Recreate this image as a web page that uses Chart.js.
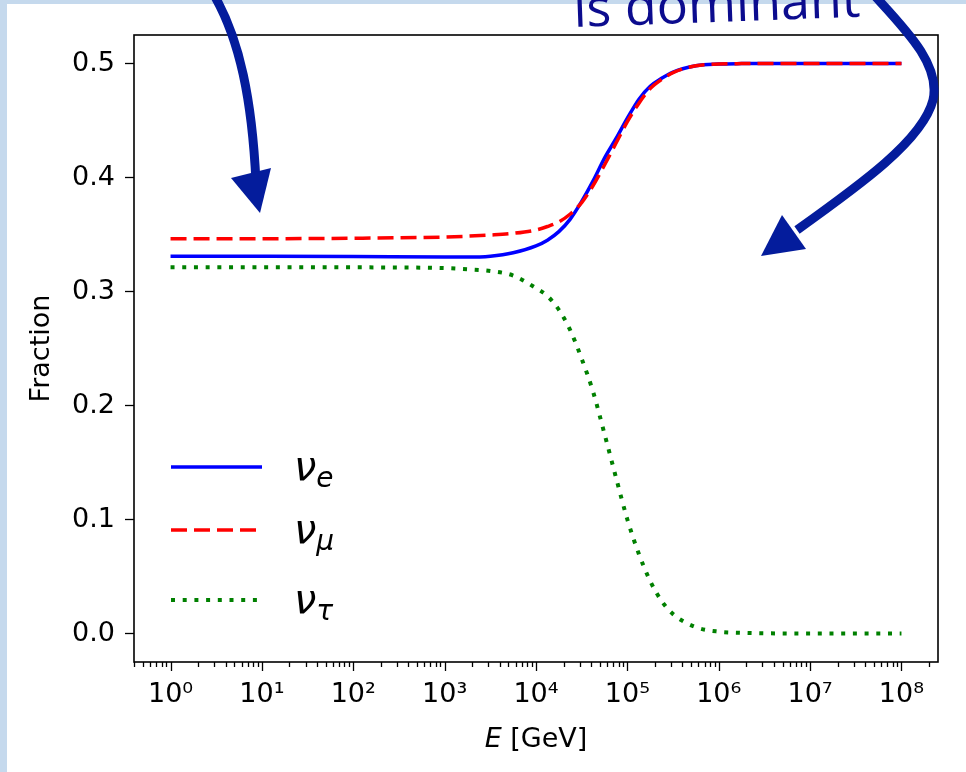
<!DOCTYPE html>
<html>
<head>
<meta charset="utf-8">
<script src="https://cdn.jsdelivr.net/npm/chart.js@4.4.1/dist/chart.umd.min.js"></script>
<style>
  html, body { margin: 0; padding: 0; background: #fff; }
  #wrap { width: 966px; height: 772px; }
</style>
</head>
<body>
<div id="wrap"><canvas id="fractionChart" width="966" height="772"></canvas></div>
<script>
// Energies in GeV (sample points)
const energyGeV = [1, 10, 100, 1000, 1778, 3162, 5623, 10000, 13335, 17783, 23714, 31623, 42170,
	56234, 74989, 100000, 133352, 177828, 237137, 316228, 562341, 1000000, 1778279, 3162278,
	10000000, 100000000];

// Flavour fractions
const nuE = [0.3310, 0.3310, 0.3308, 0.3302, 0.3302, 0.3310, 0.3340, 0.3400, 0.3450, 0.3525,
	0.3635, 0.3790, 0.3970, 0.4170, 0.4340, 0.4520, 0.4685, 0.4800, 0.4870, 0.4925, 0.4980,
	0.4995, 0.4999, 0.5000, 0.5000, 0.5000];
const nuMu = [0.3462, 0.3463, 0.3467, 0.3478, 0.3485, 0.3495, 0.3510, 0.3540, 0.3570, 0.3610,
	0.3680, 0.3780, 0.3930, 0.4110, 0.4300, 0.4490, 0.4650, 0.4780, 0.4860, 0.4920, 0.4980,
	0.4995, 0.4999, 0.5000, 0.5000, 0.5000];
const nuTau = [0.3213, 0.3213, 0.3212, 0.3205, 0.3195, 0.3180, 0.3140, 0.3030, 0.2960, 0.2840,
	0.2660, 0.2410, 0.2120, 0.1750, 0.1370, 0.1000, 0.0700, 0.0460, 0.0285, 0.0170, 0.0055,
	0.0016, 0.0006, 0.0002, 0.0000, 0.0000];

// Tick labels
const decadeValues = [1, 10, 100, 1000, 10000, 100000, 1000000, 10000000, 100000000];
const decadeLabels = ["10⁰", "10¹", "10²", "10³", "10⁴", "10⁵", "10⁶", "10⁷", "10⁸"];
const yTickValues = [0, 0.1, 0.2, 0.3, 0.4, 0.5];

const legendSubs = ["e", "μ", "τ"];

const TICK_FONT = { family: "'DejaVu Sans'", size: 27 };
const ARROW_BLUE = "#041c9c";

function toPoints(ys) {
	return energyGeV.map(function (e, i) {
		return { x: e, y: ys[i] };
	});
}

// x minor ticks 2..9 x 10^n inside the axis range
function buildLogTicks(min, max) {
	const ticks = [];
	for (let n = -1; n <= 8; n++) {
		for (let m = 1; m <= 9; m++) {
			const v = m * Math.pow(10, n);
			if (v >= min && v <= max) ticks.push({ value: v, major: m === 1 });
		}
	}
	return ticks;
}

const decorPlugin = {
	id: "decor",
	beforeDraw(chart) {
		const ctx = chart.ctx;
		ctx.save();
		ctx.fillStyle = "#ffffff";
		ctx.fillRect(0, 0, chart.width, chart.height);
		ctx.fillStyle = "#c5d9ed";
		ctx.fillRect(0, 0, 7, chart.height);
		ctx.fillRect(0, 0, chart.width, 4);
		ctx.restore();
	},
	afterDraw(chart) {
		const ctx = chart.ctx;
		const area = chart.chartArea;
		const xs = chart.scales.x;
		ctx.save();

		// axes box
		ctx.strokeStyle = "#000";
		ctx.lineWidth = 1.6;
		ctx.strokeRect(area.left, area.top, area.right - area.left, area.bottom - area.top);

		// x tick marks
		ctx.lineWidth = 1.3;
		xs.ticks.forEach(function (t) {
			const px = Math.round(xs.getPixelForValue(t.value)) + 0.5;
			const len = decadeValues.indexOf(t.value) >= 0 ? 9 : 5;
			ctx.beginPath();
			ctx.moveTo(px, area.bottom);
			ctx.lineTo(px, area.bottom + len);
			ctx.stroke();
		});

		// x title: italic E + [GeV]
		ctx.fillStyle = "#000";
		ctx.textBaseline = "alphabetic";
		const fE = "italic 27px 'DejaVu Sans'";
		const fR = "27px 'DejaVu Sans'";
		ctx.font = fE;
		const wE = ctx.measureText("E").width;
		ctx.font = fR;
		const wR = ctx.measureText(" [GeV]").width;
		const cx = (area.left + area.right) / 2;
		const tx = cx - (wE + wR) / 2;
		ctx.font = fE;
		ctx.fillText("E", tx, 747);
		ctx.font = fR;
		ctx.fillText(" [GeV]", tx + wE, 747);

		// legend
		const rowsY = [467, 530, 600];
		chart.data.datasets.forEach(function (ds, i) {
			const y = rowsY[i];
			ctx.strokeStyle = ds.borderColor;
			ctx.lineWidth = ds.borderWidth;
			ctx.setLineDash(ds.borderDash || []);
			ctx.beginPath();
			ctx.moveTo(171, y);
			ctx.lineTo(262, y);
			ctx.stroke();
			ctx.setLineDash([]);
			ctx.fillStyle = "#000";
			ctx.font = "italic 40px 'DejaVu Sans'";
			ctx.fillText("ν", 294, y + 13);
			const wn = ctx.measureText("ν").width;
			ctx.font = "italic 28px 'DejaVu Sans'";
			ctx.fillText(legendSubs[i], 294 + wn, y + 20);
		});

		// partially visible annotation text
		ctx.save();
		ctx.translate(574, 27);
		ctx.rotate(-0.036);
		ctx.fillStyle = "#0c0c8e";
		ctx.font = "52px 'Open Sans'";
		ctx.fillText("is dominant", 0, 0);
		ctx.restore();

		// annotation arrows
		ctx.strokeStyle = ARROW_BLUE;
		ctx.fillStyle = ARROW_BLUE;
		ctx.lineWidth = 9;
		ctx.lineCap = "butt";
		ctx.beginPath();
		ctx.moveTo(214, -5);
		ctx.bezierCurveTo(240, 40, 252, 100, 256, 182);
		ctx.stroke();
		ctx.beginPath();
		ctx.moveTo(231, 178);
		ctx.lineTo(271, 168);
		ctx.lineTo(260, 213);
		ctx.closePath();
		ctx.fill();

		ctx.beginPath();
		ctx.moveTo(874, -5);
		ctx.bezierCurveTo(906, 30, 941, 65, 933, 100);
		ctx.bezierCurveTo(923, 140, 860, 185, 797, 230);
		ctx.stroke();
		ctx.beginPath();
		ctx.moveTo(782, 215);
		ctx.lineTo(806, 249);
		ctx.lineTo(761, 256);
		ctx.closePath();
		ctx.fill();

		ctx.restore();
	},
};

document.addEventListener("DOMContentLoaded", function () {
	const canvas = document.getElementById("fractionChart");

	new Chart(canvas, {
		type: "line",
		data: {
			datasets: [
				{
					label: "νe",
					data: toPoints(nuE),
					borderColor: "#0000ff",
					borderWidth: 3.5,
					pointRadius: 0,
					cubicInterpolationMode: "monotone",
					fill: false,
					order: 3,
				},
				{
					label: "νμ",
					data: toPoints(nuMu),
					borderColor: "#ff0000",
					borderWidth: 3.5,
					borderDash: [16, 7],
					borderCapStyle: "butt",
					pointRadius: 0,
					cubicInterpolationMode: "monotone",
					fill: false,
					order: 2,
				},
				{
					label: "ντ",
					data: toPoints(nuTau),
					borderColor: "#008000",
					borderWidth: 4,
					borderDash: [4, 7.7],
					borderCapStyle: "butt",
					pointRadius: 0,
					cubicInterpolationMode: "monotone",
					fill: false,
					order: 1,
				},
			],
		},
		options: {
			responsive: false,
			animation: false,
			devicePixelRatio: 1,
			layout: {
				padding: { left: 0, top: 35, right: 28, bottom: 0 },
			},
			plugins: {
				legend: { display: false },
				tooltip: { enabled: false },
			},
			scales: {
				x: {
					type: "logarithmic",
					min: Math.pow(10, -0.4),
					max: Math.pow(10, 8.4),
					afterBuildTicks: function (scale) {
						scale.ticks = buildLogTicks(scale.min, scale.max);
					},
					afterFit: function (scale) {
						scale.height = 110;
					},
					grid: { display: false, drawTicks: false },
					border: { display: false },
					ticks: {
						autoSkip: false,
						maxRotation: 0,
						padding: 17,
						color: "#000",
						font: TICK_FONT,
						callback: function (value) {
							const i = decadeValues.indexOf(value);
							return i >= 0 ? decadeLabels[i] : "";
						},
					},
				},
				y: {
					type: "linear",
					min: -0.025,
					max: 0.525,
					afterBuildTicks: function (scale) {
						scale.ticks = yTickValues.map(function (v) {
							return { value: v };
						});
					},
					afterFit: function (scale) {
						scale.width = 134;
					},
					grid: {
						display: true,
						drawOnChartArea: false,
						drawTicks: true,
						tickLength: 9,
						tickWidth: 1.3,
						tickColor: "#000",
					},
					border: { display: false },
					ticks: {
						autoSkip: false,
						padding: 10,
						color: "#000",
						font: TICK_FONT,
						callback: function (value) {
							return value.toFixed(1);
						},
					},
					title: {
						display: true,
						text: "Fraction",
						color: "#000",
						font: { family: "'DejaVu Sans'", size: 27 },
						padding: { top: 26, bottom: 0 },
					},
				},
			},
		},
		plugins: [decorPlugin],
	});
});
</script>
</body>
</html>
